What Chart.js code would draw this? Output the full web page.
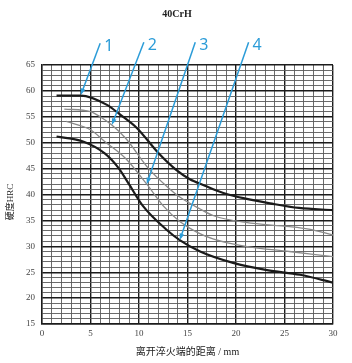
<!DOCTYPE html>
<html>
<head>
<meta charset="utf-8">
<script src="https://cdn.jsdelivr.net/npm/chart.js@4/dist/chart.umd.min.js"></script>
<style>
  html, body { margin: 0; padding: 0; background: #fff; }
  #wrap { width: 352px; height: 363px; position: relative; }
</style>
</head>
<body>
<div id="wrap"><canvas id="grafica" width="352" height="363"></canvas></div>
<script>
// distancia al extremo templado (mm) y dureza HRC de cada curva
const dist1 = [1.5, 4, 6.7, 8, 9.8, 12, 13.8, 15.2, 16.8, 18.7, 21, 23.5, 26.5, 30];
const hrc1 = [59.1, 59.1, 57.3, 55.5, 52.8, 48, 44.8, 43.0, 41.7, 40.3, 39.2, 38.3, 37.4, 37.0];

const dist2 = [2.3, 5, 6, 7.2, 8.6, 11, 12.9, 14.2, 16.3, 17.7, 21, 25.5, 27.5, 30];
const hrc2 = [56.5, 56.0, 55.0, 53.4, 50.9, 45.0, 41.5, 39.5, 37.2, 35.9, 34.6, 33.8, 33.3, 32.2];

const dist3 = [2.5, 5, 6.5, 8.6, 10.8, 12.5, 14.2, 16, 17.7, 21, 25.5, 30];
const hrc3 = [54.1, 52.5, 50.2, 47.0, 42.0, 37.8, 34.8, 32.7, 31.4, 30.0, 29.0, 28.0];

const dist4 = [1.5, 4.3, 6.5, 7.9, 8.9, 10.4, 12.9, 14.2, 16.3, 19.7, 23.2, 26.6, 30];
const hrc4 = [51.2, 50.2, 47.9, 45.1, 42.2, 37.8, 33.1, 31.2, 29.0, 26.8, 25.4, 24.5, 23.0];

// etiquetas de las curvas (flechas azules)
const etiquetas = ['1', '2', '3', '4'];
const puntaX = [4.0, 7.2, 10.8, 14.2];
const puntaY = [59.2, 53.4, 42.0, 31.2];
const colaX = [6.0, 10.5, 15.8, 21.3];
const colaY = [69.2, 69.4, 69.4, 69.4];

const ejeXTicks = [0, 5, 10, 15, 20, 25, 30];
const ejeYTicks = [15, 20, 25, 30, 35, 40, 45, 50, 55, 60, 65];

const titulo = '40CrH';
const tituloX = '离开淬火端的距离 / mm';
const tituloY = '硬度HRC';

const serif = '"Liberation Serif", "DejaVu Serif", "Noto Sans CJK SC", serif';
const azul = '#2b9cd8';

const puntos = (xs, ys) => xs.map((x, i) => ({ x, y: ys[i] }));

const textos = {
  id: 'textos',
  afterDraw(chart) {
    const { ctx, scales: { x, y }, chartArea } = chart;
    ctx.save();
    // flechas
    ctx.strokeStyle = azul;
    ctx.fillStyle = azul;
    ctx.lineWidth = 1.5;
    etiquetas.forEach((et, i) => {
      const x0 = x.getPixelForValue(colaX[i]), y0 = y.getPixelForValue(colaY[i]);
      const x1 = x.getPixelForValue(puntaX[i]), y1 = y.getPixelForValue(puntaY[i]);
      const ang = Math.atan2(y1 - y0, x1 - x0);
      ctx.beginPath();
      ctx.moveTo(x0, y0);
      ctx.lineTo(x1 - 3 * Math.cos(ang), y1 - 3 * Math.sin(ang));
      ctx.stroke();
      ctx.beginPath();
      ctx.moveTo(x1, y1);
      ctx.lineTo(x1 - 7 * Math.cos(ang - 0.35), y1 - 7 * Math.sin(ang - 0.35));
      ctx.lineTo(x1 - 7 * Math.cos(ang + 0.35), y1 - 7 * Math.sin(ang + 0.35));
      ctx.closePath();
      ctx.fill();
      ctx.font = '16px "Noto Sans", "DejaVu Sans", sans-serif';
      ctx.textAlign = 'left';
      ctx.textBaseline = 'middle';
      ctx.fillText(et, x0 + 4, y0 + 3);
    });
    // titulos
    ctx.fillStyle = '#222';
    ctx.textAlign = 'center';
    ctx.textBaseline = 'middle';
    ctx.font = 'bold 10px ' + serif;
    ctx.fillText(titulo, 177, 14);
    ctx.font = '10px ' + serif;
    ctx.fillText(tituloX, (chartArea.left + chartArea.right) / 2, 352);
    ctx.translate(11, 202);
    ctx.rotate(-Math.PI / 2);
    ctx.font = '9px ' + serif;
    ctx.fillText(tituloY, 0, 0);
    ctx.restore();
  }
};

const colorRejilla = c => (c.tick && c.tick.value % 5 === 0) ? '#1c1c1c' : '#5a5a5a';
const anchoRejilla = c => (c.tick && c.tick.value % 5 === 0) ? 1.4 : 0.9;

const linea = (data, color, ancho) => ({
  data, borderColor: color, borderWidth: ancho, pointRadius: 0,
  cubicInterpolationMode: 'monotone', fill: false
});

new Chart(document.getElementById('grafica'), {
  type: 'line',
  data: {
    datasets: [
      linea(puntos(dist1, hrc1), '#1a1a1a', 2.2),
      linea(puntos(dist2, hrc2), '#8a8a8a', 1.3),
      linea(puntos(dist3, hrc3), '#8a8a8a', 1.3),
      linea(puntos(dist4, hrc4), '#1a1a1a', 2.2)
    ]
  },
  options: {
    responsive: false,
    animation: false,
    layout: { padding: { top: 65, right: 19, left: 0, bottom: 0 } },
    plugins: { legend: { display: false }, tooltip: { enabled: false } },
    scales: {
      x: {
        type: 'linear', min: 0, max: 30,
        afterFit: s => { s.height = 39; },
        ticks: {
          stepSize: 1, autoSkip: false, maxRotation: 0, padding: 4,
          color: '#444', font: { family: serif, size: 9 },
          callback: v => ejeXTicks.includes(v) ? String(v) : ''
        },
        grid: { color: colorRejilla, lineWidth: anchoRejilla, drawTicks: false },
        border: { color: '#1c1c1c', width: 1.4 }
      },
      y: {
        type: 'linear', min: 15, max: 65,
        afterFit: s => { s.width = 42; },
        ticks: {
          stepSize: 1, autoSkip: false, padding: 7,
          color: '#444', font: { family: serif, size: 9 },
          callback: v => ejeYTicks.includes(v) ? String(v) : ''
        },
        grid: { color: colorRejilla, lineWidth: anchoRejilla, drawTicks: false },
        border: { color: '#1c1c1c', width: 1.4 }
      }
    }
  },
  plugins: [textos]
});
</script>
</body>
</html>
